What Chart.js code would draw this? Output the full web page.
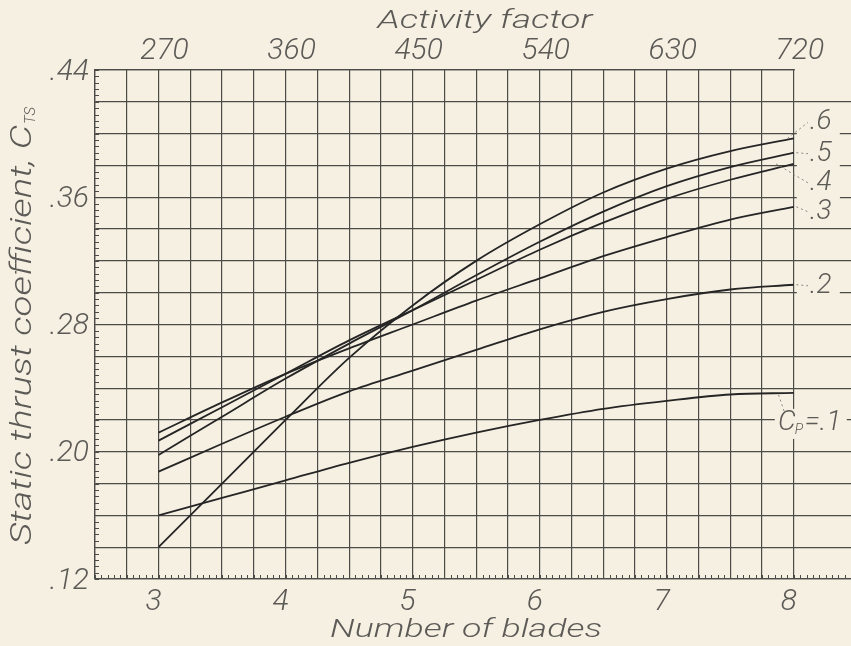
<!DOCTYPE html>
<html>
<head>
<meta charset="utf-8">
<script src="https://cdn.jsdelivr.net/npm/chart.js@4.4.1/dist/chart.umd.min.js"></script>
<style>
  html, body { margin: 0; padding: 0; background: #f6f0e2; }
  #wrap { width: 851px; height: 646px; }
</style>
</head>
<body>
<div id="wrap"><canvas id="thrustChart" width="851" height="646"></canvas></div>
<script>
// values
var blades = [3, 3.5, 4, 4.5, 5, 5.5, 6, 6.5, 7, 7.5, 8];
var ctsCp1 = [0.160, 0.171, 0.182, 0.193, 0.203, 0.212, 0.220, 0.227, 0.232, 0.236, 0.237];
var ctsCp2 = [0.1875, 0.205, 0.222, 0.238, 0.251, 0.264, 0.277, 0.288, 0.296, 0.302, 0.305];
var ctsCp3 = [0.212, 0.231, 0.249, 0.265, 0.280, 0.295, 0.309, 0.323, 0.335, 0.346, 0.354];
var ctsCp4 = [0.207, 0.228, 0.249, 0.270, 0.289, 0.308, 0.327, 0.344, 0.359, 0.371, 0.381];
var ctsCp5 = [0.198, 0.222, 0.246, 0.268, 0.289, 0.311, 0.332, 0.351, 0.367, 0.379, 0.388];
var ctsCp6 = [0.140, 0.180, 0.220, 0.259, 0.292, 0.320, 0.343, 0.363, 0.378, 0.389, 0.397];

var bladeTicks = [3, 4, 5, 6, 7, 8];
var activityFactor = [270, 360, 450, 540, 630, 720];
var ctsTicks = [0.12, 0.20, 0.28, 0.36, 0.44];
var ctsTickLabels = ['.12', '.20', '.28', '.36', '.44'];
var cpLabels = ['.1', '.2', '.3', '.4', '.5', '.6'];

// where the curve labels sit relative to the curve ends (pixels)
var labelDy = [30, 1, 5, 19, 1, -16];
var leaderStartX = [7.88, 8.02, 8.02, 7.86, 8.02, 7.95];

var bg = '#f6f0e2';
var ink = '#252525';
var gridInk = '#4d4b47';
var textInk = '#5c5a56';
var lightFont = function (size) { return '300 italic ' + size + 'px Roboto, "DejaVu Sans", sans-serif'; };

function toPoints(ys) {
  return blades.map(function (b, i) { return { x: b, y: ys[i] }; });
}

var allSeries = [ctsCp1, ctsCp2, ctsCp3, ctsCp4, ctsCp5, ctsCp6];
var datasets = allSeries.map(function (s, i) {
  return {
    label: 'Cp = ' + cpLabels[i],
    data: toPoints(s),
    borderColor: ink,
    borderWidth: 1.8,
    pointRadius: 0,
    fill: false,
    cubicInterpolationMode: 'monotone',
    xAxisID: 'x',
    yAxisID: 'y'
  };
});

function textW(ctx, str, x, y, width) {
  // draws text squeezed/stretched to a given width
  var w = ctx.measureText(str).width;
  ctx.save();
  ctx.translate(x, y);
  ctx.scale(width / w, 1);
  ctx.textAlign = 'center';
  ctx.fillText(str, 0, 0);
  ctx.restore();
}

var paperPlugin = {
  id: 'paper',
  beforeDraw: function (chart) {
    var ctx = chart.ctx;
    ctx.save();
    ctx.fillStyle = bg;
    ctx.fillRect(0, 0, chart.width, chart.height);
    ctx.restore();
  },
  beforeDatasetsDraw: function (chart) {
    var ctx = chart.ctx, xs = chart.scales.x, ys = chart.scales.y;
    ctx.save();
    ctx.fillStyle = bg;
    // the top border stops at 8 blades
    ctx.fillRect(xs.getPixelForValue(8) + 1, chart.chartArea.top - 2, 100, 3);
    // clear the grid behind the curve labels
    for (var i = 1; i < allSeries.length; i++) {
      var cy = ys.getPixelForValue(allSeries[i][allSeries[i].length - 1]) + labelDy[i];
      ctx.fillRect(xs.getPixelForValue(8) + 3, cy - 15, 43, 30);
    }
    var cy1 = ys.getPixelForValue(ctsCp1[ctsCp1.length - 1]) + labelDy[0];
    ctx.fillRect(xs.getPixelForValue(7.85), cy1 - 14, 72, 30);

    // minor ticks
    ctx.strokeStyle = gridInk;
    ctx.lineWidth = 1;
    ctx.beginPath();
    var bottom = chart.chartArea.bottom, left = chart.chartArea.left;
    for (var k = 0; k <= 120; k++) {
      var xv = 2.5 + k * 0.05;
      if (xv > xs.max) break;
      var px = Math.round(xs.getPixelForValue(xv)) + 0.5;
      ctx.moveTo(px, bottom);
      ctx.lineTo(px, bottom - 4);
    }
    for (var m = 0; m <= 80; m++) {
      var yv = 0.12 + m * 0.004;
      var py = Math.round(ys.getPixelForValue(yv)) + 0.5;
      ctx.moveTo(left, py);
      ctx.lineTo(left + 4, py);
    }
    ctx.stroke();
    ctx.restore();
  },
  afterDatasetsDraw: function (chart) {
    var ctx = chart.ctx, xs = chart.scales.x, ys = chart.scales.y;
    ctx.save();
    ctx.fillStyle = textInk;
    ctx.textBaseline = 'middle';

    // top axis: activity factor
    ctx.font = lightFont(30);
    ctx.textAlign = 'center';
    bladeTicks.forEach(function (b, i) {
      ctx.fillText(String(activityFactor[i]), xs.getPixelForValue(b) + 6, 51);
    });
    // bottom axis: number of blades
    bladeTicks.forEach(function (b) {
      ctx.fillText(String(b), xs.getPixelForValue(b) - 5, 602);
    });
    // left axis
    ctx.textAlign = 'right';
    ctsTicks.forEach(function (v, i) {
      ctx.fillText(ctsTickLabels[i], 89, ys.getPixelForValue(v) + 2);
    });

    // axis titles
    ctx.font = lightFont(25);
    textW(ctx, 'Activity factor', 485, 22, 215);
    textW(ctx, 'Number of blades', 466, 631, 272);

    ctx.save();
    ctx.translate(24, 322);
    ctx.rotate(-Math.PI / 2);
    ctx.font = lightFont(29);
    ctx.textAlign = 'left';
    var mainTxt = 'Static thrust coefficient, C';
    var mw = ctx.measureText(mainTxt).width;
    var sx = 420 / mw;
    ctx.save();
    ctx.translate(-223, 0);
    ctx.scale(sx, 1);
    ctx.fillText(mainTxt, 0, 0);
    ctx.restore();
    ctx.font = lightFont(15);
    ctx.fillText('TS', -223 + mw * sx + 1, 7);
    ctx.restore();

    // curve labels with dotted leaders
    ctx.font = lightFont(28);
    ctx.textAlign = 'left';
    ctx.strokeStyle = '#8a8680';
    ctx.lineWidth = 1;
    ctx.setLineDash([2, 3]);
    for (var i = 0; i < allSeries.length; i++) {
      var s = allSeries[i];
      var x0 = xs.getPixelForValue(leaderStartX[i]);
      var y0 = ys.getPixelForValue(s[s.length - 1]);
      var ly = y0 + labelDy[i];
      var lx = i === 0 ? 784 : 808;
      ctx.beginPath();
      ctx.moveTo(x0, y0 + (i === 0 ? 2 : 0));
      ctx.lineTo(lx, ly + (i === 0 ? -12 : 0));
      ctx.stroke();
    }
    ctx.setLineDash([]);
    for (var j = 1; j < allSeries.length; j++) {
      var yy = ys.getPixelForValue(allSeries[j][allSeries[j].length - 1]) + labelDy[j];
      ctx.fillText(cpLabels[j], 810, yy);
    }
    var y1 = ys.getPixelForValue(ctsCp1[ctsCp1.length - 1]) + labelDy[0];
    ctx.fillText('C', 778, y1);
    var cw = ctx.measureText('C').width;
    ctx.font = lightFont(14);
    ctx.fillText('P', 778 + cw - 1, y1 + 8);
    ctx.font = lightFont(28);
    ctx.fillText('=' + cpLabels[0], 778 + cw + 9, y1);
    ctx.restore();
  }
};

var ctx = document.getElementById('thrustChart').getContext('2d');
new Chart(ctx, {
  type: 'line',
  data: { datasets: datasets },
  options: {
    responsive: false,
    animation: false,
    devicePixelRatio: 1,
    layout: { padding: { left: 95, top: 70, right: 0, bottom: 67 } },
    plugins: { legend: { display: false }, tooltip: { enabled: false } },
    scales: {
      x: {
        type: 'linear',
        position: 'bottom',
        min: 2.5,
        max: 8.45,
        ticks: { display: false, stepSize: 0.25 },
        grid: {
          drawTicks: false,
          lineWidth: 1.2,
          color: function (c) {
            var v = c.tick ? c.tick.value : 0;
            return Math.abs(v * 4 - Math.round(v * 4)) < 1e-6 ? gridInk : 'rgba(0,0,0,0)';
          }
        },
        border: { display: true, color: gridInk, width: 1.3 }
      },
      x2: {
        type: 'linear',
        position: 'top',
        min: 2.5,
        max: 8.45,
        ticks: { display: false },
        grid: { display: false, drawTicks: false },
        border: { display: true, color: gridInk, width: 1.3 }
      },
      y: {
        type: 'linear',
        min: 0.12,
        max: 0.44,
        ticks: { display: false, stepSize: 0.02 },
        grid: { drawTicks: false, lineWidth: 1.2, color: gridInk },
        border: { display: true, color: gridInk, width: 1.3 }
      }
    }
  },
  plugins: [paperPlugin]
});
</script>
</body>
</html>
